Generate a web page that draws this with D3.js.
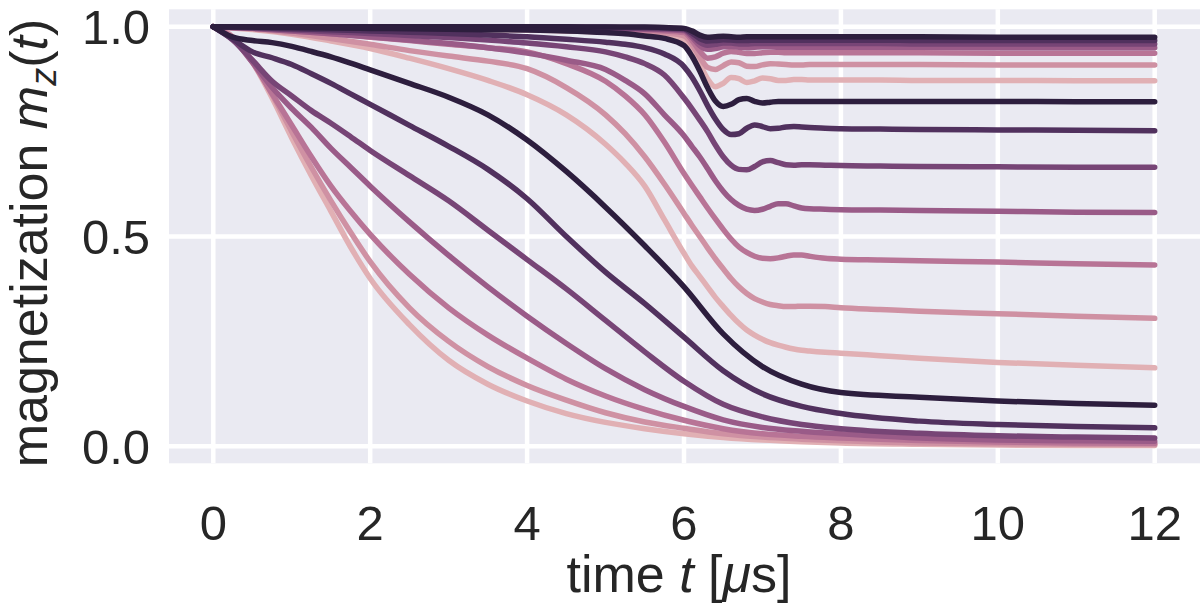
<!DOCTYPE html>
<html><head><meta charset="utf-8">
<script src="https://cdn.jsdelivr.net/npm/d3@7"></script>
<style>body{margin:0;background:#fff}</style>
</head><body>
<svg id="chart" width="1200" height="607"></svg>
<script>
// ---------------- data ----------------
const xTicks = [0, 2, 4, 6, 8, 10, 12];
const xTickLabels = ["0", "2", "4", "6", "8", "10", "12"];
const yTicks = [0.0, 0.5, 1.0];
const yTickLabels = ["0.0", "0.5", "1.0"];

// time grid for the slowly relaxing group (decays to ~0)
const timeSmooth = [0,0.25,0.5,0.75,1,1.25,1.5,1.75,2,2.5,3,3.5,4,4.5,5,5.5,6,6.5,7,7.5,8,9,10,11,12];
// time grid for the groups with the kick at t≈6
const timeFine = [0,0.5,1,1.5,2,2.5,3,3.5,4,4.5,5,5.25,5.5,5.75,6,6.1,6.2,6.3,6.4,6.5,6.6,6.7,6.8,6.9,7,7.1,7.2,7.3,7.4,7.5,7.6,7.8,8,8.5,9,10,11,12];

// group 1 (upper plateau), light -> dark
const g1Level0 = [1,1,0.999,0.998,0.997,0.996,0.995,0.993,0.992,0.99,0.988,0.986,0.984,0.98,0.97,0.948,0.912,0.876,0.857,0.865,0.879,0.876,0.867,0.871,0.878,0.876,0.872,0.872,0.874,0.874,0.873,0.873,0.873,0.873,0.872,0.872,0.871,0.871];
const g1Level1 = [1,1,0.999,0.999,0.998,0.997,0.996,0.995,0.994,0.993,0.991,0.99,0.988,0.985,0.978,0.958,0.928,0.903,0.898,0.907,0.916,0.914,0.906,0.905,0.909,0.912,0.911,0.91,0.909,0.909,0.91,0.91,0.91,0.91,0.91,0.909,0.909,0.909];
const g1Level2 = [1,1,1,0.999,0.999,0.998,0.998,0.997,0.996,0.995,0.994,0.993,0.992,0.99,0.986,0.968,0.942,0.925,0.928,0.937,0.941,0.939,0.936,0.936,0.938,0.939,0.939,0.938,0.938,0.938,0.938,0.938,0.938,0.938,0.938,0.937,0.937,0.937];
const g1Level3 = [1,1,1,1,0.999,0.999,0.999,0.998,0.998,0.997,0.996,0.995,0.994,0.993,0.99,0.975,0.955,0.946,0.948,0.952,0.953,0.951,0.95,0.951,0.952,0.952,0.951,0.951,0.951,0.951,0.951,0.951,0.951,0.951,0.951,0.95,0.95,0.95];
const g1Level4 = [1,1,1,1,1,1,0.999,0.999,0.999,0.998,0.997,0.997,0.996,0.995,0.993,0.98,0.963,0.956,0.958,0.961,0.961,0.959,0.959,0.96,0.96,0.96,0.96,0.96,0.96,0.96,0.96,0.96,0.96,0.96,0.959,0.959,0.959,0.959];
const g1Level5 = [1,1,1,1,1,1,1,1,1,0.999,0.999,0.998,0.998,0.997,0.995,0.985,0.972,0.966,0.967,0.969,0.968,0.967,0.967,0.968,0.968,0.968,0.968,0.968,0.968,0.968,0.968,0.968,0.968,0.968,0.967,0.967,0.967,0.967];
const g1Level6 = [1,1,1,1,1,1,1,1,1,1,0.999,0.999,0.999,0.998,0.996,0.99,0.98,0.975,0.976,0.977,0.976,0.975,0.976,0.976,0.976,0.976,0.976,0.976,0.976,0.976,0.976,0.976,0.976,0.976,0.976,0.975,0.975,0.975];

// group 2 (middle plateaus), light -> dark
const g2Level0 = [1,0.993,0.982,0.966,0.948,0.925,0.9,0.872,0.838,0.79,0.72,0.675,0.62,0.54,0.46,0.43,0.405,0.38,0.355,0.333,0.312,0.293,0.277,0.265,0.255,0.247,0.241,0.236,0.232,0.229,0.227,0.224,0.222,0.216,0.21,0.2,0.193,0.187];
const g2Level1 = [1,0.995,0.985,0.972,0.958,0.943,0.93,0.918,0.9,0.855,0.79,0.745,0.69,0.625,0.555,0.527,0.5,0.473,0.447,0.423,0.4,0.38,0.364,0.352,0.344,0.338,0.335,0.333,0.333,0.334,0.334,0.333,0.33,0.326,0.322,0.316,0.31,0.305];
const g2Level2 = [1,0.996,0.99,0.983,0.975,0.967,0.958,0.95,0.94,0.912,0.87,0.835,0.79,0.725,0.65,0.622,0.595,0.568,0.542,0.517,0.494,0.475,0.462,0.453,0.448,0.447,0.449,0.453,0.456,0.456,0.453,0.448,0.446,0.444,0.442,0.439,0.435,0.432];
const g2Level3 = [1,0.996,0.99,0.983,0.976,0.968,0.96,0.95,0.937,0.92,0.898,0.872,0.84,0.79,0.74,0.715,0.69,0.662,0.633,0.608,0.588,0.574,0.565,0.562,0.565,0.572,0.578,0.578,0.573,0.568,0.566,0.565,0.564,0.563,0.562,0.56,0.558,0.557];
const g2Level4 = [1,0.997,0.993,0.988,0.984,0.979,0.974,0.968,0.961,0.952,0.94,0.928,0.912,0.885,0.83,0.805,0.778,0.75,0.718,0.69,0.67,0.66,0.659,0.667,0.678,0.681,0.676,0.671,0.67,0.671,0.671,0.67,0.669,0.668,0.667,0.666,0.665,0.665];
const g2Level5 = [1,0.998,0.995,0.993,0.99,0.987,0.984,0.98,0.976,0.97,0.963,0.958,0.95,0.935,0.905,0.88,0.848,0.812,0.78,0.755,0.743,0.745,0.758,0.766,0.762,0.757,0.758,0.761,0.762,0.761,0.76,0.758,0.757,0.756,0.755,0.754,0.753,0.752];
const g2Level6 = [1,0.999,0.998,0.997,0.996,0.995,0.994,0.993,0.992,0.99,0.986,0.983,0.978,0.972,0.955,0.93,0.895,0.855,0.823,0.81,0.815,0.826,0.829,0.822,0.818,0.82,0.822,0.822,0.822,0.822,0.822,0.822,0.822,0.822,0.822,0.822,0.821,0.821];

// group 3 (relaxing towards 0), light -> dark
const g3Level0 = [1,0.975,0.915,0.83,0.735,0.645,0.56,0.475,0.40,0.29,0.205,0.148,0.108,0.078,0.057,0.042,0.030,0.021,0.015,0.011,0.008,0.005,0.003,0.002,0.002];
const g3Level1 = [1,0.975,0.918,0.838,0.75,0.665,0.585,0.51,0.44,0.33,0.25,0.19,0.145,0.11,0.08,0.058,0.043,0.03,0.022,0.017,0.013,0.008,0.006,0.005,0.004];
const g3Level2 = [1,0.972,0.915,0.84,0.765,0.69,0.62,0.56,0.505,0.41,0.33,0.265,0.21,0.16,0.12,0.088,0.062,0.042,0.03,0.024,0.02,0.014,0.01,0.008,0.007];
const g3Level3 = [1,0.97,0.915,0.855,0.805,0.76,0.71,0.665,0.62,0.535,0.455,0.38,0.31,0.245,0.185,0.135,0.095,0.063,0.045,0.036,0.03,0.02,0.015,0.013,0.012];
const g3Level4 = [1,0.968,0.92,0.87,0.835,0.80,0.77,0.738,0.705,0.645,0.585,0.515,0.445,0.375,0.30,0.225,0.155,0.10,0.07,0.052,0.042,0.031,0.025,0.022,0.02];
const g3Level5 = [1,0.97,0.94,0.926,0.91,0.888,0.865,0.84,0.815,0.765,0.715,0.66,0.59,0.50,0.415,0.34,0.26,0.18,0.125,0.095,0.078,0.06,0.052,0.047,0.044];
const g3Level6 = [1,0.975,0.967,0.962,0.953,0.941,0.928,0.913,0.897,0.865,0.832,0.79,0.73,0.655,0.57,0.478,0.38,0.268,0.19,0.148,0.128,0.117,0.108,0.102,0.098];

const group1 = [g1Level0,g1Level1,g1Level2,g1Level3,g1Level4,g1Level5,g1Level6];
const group2 = [g2Level0,g2Level1,g2Level2,g2Level3,g2Level4,g2Level5,g2Level6];
const group3 = [g3Level0,g3Level1,g3Level2,g3Level3,g3Level4,g3Level5,g3Level6];

// ---------------- styling / layout ----------------
const W = 1200, H = 607;
const plot = {left: 169, right: 1200, top: 9.3, bottom: 463.3};
const x = d3.scaleLinear().domain([0, 12]).range([213.3, 1154.7]);
const y = d3.scaleLinear().domain([0, 1]).range([446.3, 26.7]);

// seaborn cubehelix palette (start=0, rot=.4, hue=.8)
function cubehelix(v) {
  const a = 0.8 * v * (1 - v) / 2;
  const phi = 2 * Math.PI * (0.4 * v);
  const c = Math.cos(phi), s = Math.sin(phi);
  const r = v + a * (-0.14861 * c + 1.78277 * s);
  const g = v + a * (-0.29227 * c - 0.90649 * s);
  const b = v + a * (1.97294 * c);
  const cl = u => Math.round(255 * Math.max(0, Math.min(1, u)));
  return d3.rgb(cl(r), cl(g), cl(b)).formatHex();
}
const colors = d3.range(7).map(i => cubehelix(0.75 - 0.1 * i));

const svg = d3.select("#chart");
svg.append("rect").attr("width", W).attr("height", H).attr("fill", "#fff");

svg.append("rect")
  .attr("x", plot.left).attr("y", plot.top)
  .attr("width", plot.right - plot.left).attr("height", plot.bottom - plot.top)
  .attr("fill", "#eaeaf2");

const grid = svg.append("g");
grid.selectAll("line.gx").data(xTicks).join("line")
  .attr("x1", d => x(d)).attr("x2", d => x(d))
  .attr("y1", plot.top).attr("y2", plot.bottom)
  .attr("stroke", "#fff").attr("stroke-width", 4.5);
grid.selectAll("line.gy").data(yTicks).join("line")
  .attr("y1", d => y(d)).attr("y2", d => y(d))
  .attr("x1", plot.left).attr("x2", plot.right)
  .attr("stroke", "#fff").attr("stroke-width", 4.5);

svg.append("clipPath").attr("id", "clip").append("rect")
  .attr("x", plot.left).attr("y", plot.top)
  .attr("width", plot.right - plot.left).attr("height", plot.bottom - plot.top);

const lines = svg.append("g").attr("clip-path", "url(#clip)");
const mk = (tArr) => d3.line().x((d, i) => x(tArr[i])).y(d => y(d)).curve(d3.curveMonotoneX);

for (let i = 0; i < 7; i++) {
  [[group1[i], timeFine], [group2[i], timeFine], [group3[i], timeSmooth]].forEach(([vals, tArr]) => {
    lines.append("path")
      .attr("d", mk(tArr)(vals))
      .attr("fill", "none")
      .attr("stroke", colors[i])
      .attr("stroke-width", 5.5)
      .attr("stroke-linecap", "round")
      .attr("stroke-linejoin", "round");
  });
}

const font = "'Liberation Sans', Arial, Helvetica, sans-serif";
const tickSize = 49;
svg.append("g").selectAll("text").data(xTicks).join("text")
  .attr("x", d => x(d)).attr("y", 540)
  .attr("text-anchor", "middle")
  .attr("font-family", font).attr("font-size", tickSize).attr("fill", "#262626")
  .text((d, i) => xTickLabels[i]);
svg.append("g").selectAll("text").data(yTicks).join("text")
  .attr("x", 150).attr("y", d => y(d))
  .attr("dy", "0.36em")
  .attr("text-anchor", "end")
  .attr("font-family", font).attr("font-size", tickSize).attr("fill", "#262626")
  .text((d, i) => yTickLabels[i]);

// x label
const xl = svg.append("text")
  .attr("x", 679).attr("y", 592)
  .attr("text-anchor", "middle")
  .attr("font-family", font).attr("font-size", 52).attr("fill", "#262626");
xl.append("tspan").text("time ");
xl.append("tspan").attr("font-style", "italic").text("t");
xl.append("tspan").text(" [");
xl.append("tspan").attr("font-style", "italic").text("μ");
xl.append("tspan").text("s]");

// y label
const yl = svg.append("text")
  .attr("transform", "translate(47,243) rotate(-90)")
  .attr("text-anchor", "middle")
  .attr("font-family", font).attr("font-size", 52).attr("fill", "#262626");
yl.append("tspan").text("magnetization ");
yl.append("tspan").attr("font-style", "italic").text("m");
yl.append("tspan").attr("font-size", 36).attr("font-style", "italic").attr("dy", 9).text("z");
yl.append("tspan").attr("dy", -9).text("(");
yl.append("tspan").attr("font-style", "italic").text("t");
yl.append("tspan").text(")");
</script>
</body></html>
